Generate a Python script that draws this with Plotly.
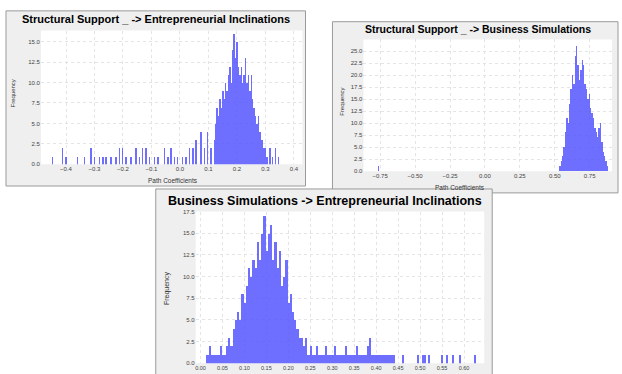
import plotly.graph_objects as go

W, H = 622, 374

# ---------------- data ----------------
p1_title = "Structural Support _ -> Entrepreneurial Inclinations"
p1_coef = [-0.447, -0.412, -0.400, -0.359, -0.336, -0.312, -0.301, -0.283, -0.271, -0.260,
           -0.242, -0.225, -0.213, -0.201, -0.189, -0.172, -0.154, -0.143, -0.131, -0.119,
           -0.108, -0.090, -0.078, -0.055, -0.043, -0.032, -0.020, -0.008, 0.009, 0.021,
           0.033, 0.045, 0.056, 0.074, 0.085, 0.097, 0.109, 0.120,
           0.125, 0.130, 0.135, 0.140, 0.145, 0.150, 0.155, 0.160, 0.165, 0.170,
           0.175, 0.180, 0.185, 0.190, 0.195, 0.200, 0.205, 0.210, 0.215, 0.220,
           0.225, 0.230, 0.235, 0.240, 0.245, 0.250, 0.255, 0.260, 0.265, 0.270,
           0.275, 0.280, 0.285, 0.290, 0.295, 0.300, 0.305, 0.315, 0.325, 0.335, 0.345]
p1_freq = [1, 2, 1, 1, 1, 2, 1, 1, 1, 1,
           1, 1, 2, 2, 1, 1, 2, 1, 2, 2,
           1, 1, 1, 2, 1, 2, 1, 1, 1, 1,
           2, 2, 3, 4, 2, 4, 2, 3,
           5, 7, 6, 8, 7, 9, 8, 10, 9, 11,
           12, 10, 14, 16, 13, 15, 12, 11, 12, 10,
           11, 13, 10, 11, 9, 11, 8, 7, 6, 5,
           6, 4, 3, 3, 2, 2, 1, 2, 1, 2, 1]
p1_xticks = [-0.4, -0.3, -0.2, -0.1, 0.0, 0.1, 0.2, 0.3, 0.4]

p2_title = "Structural Support _ -> Business Simulations"
p2_coef = [-0.76, 0.54, 0.55, 0.56, 0.57, 0.58, 0.59, 0.60, 0.61, 0.62, 0.63, 0.64, 0.65,
           0.66, 0.67, 0.68, 0.69, 0.70, 0.71, 0.72, 0.73, 0.74, 0.75, 0.76, 0.77,
           0.78, 0.79, 0.80, 0.81, 0.82, 0.83, 0.84, 0.85, 0.86, 0.87, 0.88]
p2_freq = [1, 1, 2, 3, 5, 8, 11, 10, 14, 17, 20, 18, 24,
           26, 22, 19, 21, 23, 22, 18, 17, 15, 16, 13, 12,
           11, 9, 8, 7, 9, 10, 6, 4, 3, 2, 1]
p2_xticks = [-0.75, -0.50, -0.25, 0.00, 0.25, 0.50, 0.75]

p3_title = "Business Simulations -> Entrepreneurial Inclinations"
p3_coef = [0.015, 0.020, 0.025, 0.030, 0.035, 0.040, 0.045, 0.050, 0.055, 0.060, 0.065, 0.070,
           0.075, 0.080, 0.085, 0.090, 0.095, 0.100, 0.105, 0.110, 0.115, 0.120,
           0.125, 0.130, 0.135, 0.140, 0.145, 0.150, 0.155, 0.160, 0.165, 0.170,
           0.175, 0.180, 0.185, 0.190, 0.195, 0.200, 0.205, 0.210, 0.215, 0.220,
           0.225, 0.230, 0.235, 0.240, 0.245, 0.250, 0.255, 0.260, 0.265, 0.270,
           0.275, 0.280, 0.285, 0.290, 0.295, 0.300, 0.305, 0.310, 0.315, 0.320,
           0.325, 0.330, 0.335, 0.340, 0.345, 0.350, 0.355, 0.360, 0.365, 0.370,
           0.375, 0.380, 0.385, 0.390, 0.395, 0.400, 0.405, 0.410, 0.415, 0.420,
           0.425, 0.430, 0.435, 0.440, 0.460, 0.495, 0.505, 0.510, 0.520, 0.550,
           0.560, 0.575, 0.590, 0.625]
p3_freq = [1, 2, 1, 1, 1, 1, 2, 1, 1, 2, 3, 2,
           4, 5, 6, 5, 8, 7, 9, 11, 10, 12,
           11, 14, 12, 15, 17, 13, 15, 16, 12, 14,
           11, 13, 9, 10, 12, 7, 8, 6, 5, 4,
           3, 3, 2, 3, 1, 2, 1, 1, 2, 1,
           1, 1, 2, 1, 1, 1, 2, 1, 1, 1,
           1, 2, 1, 1, 1, 1, 2, 1, 1, 1,
           1, 2, 3, 1, 1, 1, 1, 1, 1, 1,
           1, 1, 1, 1, 1, 1, 1, 1, 1, 1,
           1, 1, 1, 1]
p3_xticks = [0.00, 0.05, 0.10, 0.15, 0.20, 0.25, 0.30, 0.35, 0.40, 0.45, 0.50, 0.55, 0.60, 0.65]

y_dtick = 2.5

# ---------------- layout helpers ----------------
def px(x):
    return x / W

def py(y):
    return 1 - y / H

BAR = "rgba(85,85,255,0.85)"
FONT = "Liberation Sans, Arial, sans-serif"

fig = go.Figure()
fig.add_trace(go.Bar(x=p1_coef, y=p1_freq, width=0.005, marker=dict(color=BAR, line=dict(width=0)),
                     xaxis="x", yaxis="y"))
fig.add_trace(go.Bar(x=p2_coef, y=p2_freq, width=0.01, marker=dict(color=BAR, line=dict(width=0)),
                     xaxis="x2", yaxis="y2"))
fig.add_trace(go.Bar(x=p3_coef, y=p3_freq, width=0.005, marker=dict(color=BAR, line=dict(width=0)),
                     xaxis="x3", yaxis="y3"))

panels = [
    dict(frame=(5, 8, 305, 186), plot=(40, 28, 302, 164)),
    dict(frame=(332, 19, 618, 193), plot=(363, 37, 612, 171)),
    dict(frame=(155, 189, 492, 378), plot=(195, 212, 484, 366)),
]
shapes = []
for p in panels:
    fx0, fy0, fx1, fy1 = p["frame"]
    shapes.append(dict(type="rect", xref="paper", yref="paper", layer="below",
                       x0=px(fx0), x1=px(fx1), y0=py(fy1), y1=py(fy0),
                       fillcolor="#efefef", line=dict(color="#9a9a9a", width=1)))
    qx0, qy0, qx1, qy1 = p["plot"]
    shapes.append(dict(type="rect", xref="paper", yref="paper", layer="below",
                       x0=px(qx0), x1=px(qx1), y0=py(qy1), y1=py(qy0),
                       fillcolor="white", line=dict(width=0)))

tickfont = dict(family=FONT, size=6, color="#444")
common_x = dict(showline=False, zeroline=False, ticks="", tickfont=tickfont,
                gridcolor="#e4e4e4", griddash="dot", showgrid=True, fixedrange=True)
common_y = dict(showline=False, zeroline=False, ticks="", tickfont=tickfont,
                gridcolor="#e4e4e4", griddash="dot", showgrid=True, dtick=y_dtick,
                tick0=0, tickformat=".1f", fixedrange=True)

def dom(p):
    qx0, qy0, qx1, qy1 = p["plot"]
    return [px(qx0), px(qx1)], [py(qy1), py(qy0)]

d1x, d1y = dom(panels[0])
d2x, d2y = dom(panels[1])
d3x, d3y = dom(panels[2])

annotations = []
def ann(text, x, y, size, bold=False, angle=0, color="#000"):
    annotations.append(dict(text=f"<b>{text}</b>" if bold else text, x=px(x), y=py(y),
                            xref="paper", yref="paper", showarrow=False, textangle=angle,
                            font=dict(family=FONT, size=size, color=color),
                            xanchor="center", yanchor="middle"))

ann(p1_title, 155, 16, 11, bold=True)
ann(p2_title, 478, 26, 10.5, bold=True)
ann(p3_title, 325, 201, 12.5, bold=True)
ann("Frequency", 12, 92, 6, angle=-90, color="#333")
ann("Frequency", 342, 100, 6, angle=-90, color="#333")
ann("Frequency", 167, 290, 7, angle=-90, color="#333")
ann("Path Coefficients", 172, 180, 6.5, color="#333")
ann("Path Coefficients", 460, 187, 6.5, color="#333")

fig.update_layout(
    width=W, height=H, margin=dict(l=0, r=0, t=0, b=0),
    paper_bgcolor="white", plot_bgcolor="rgba(0,0,0,0)",
    showlegend=False, bargap=0,
    shapes=shapes, annotations=annotations,
    xaxis=dict(domain=d1x, anchor="y", range=[-0.488, 0.43], tickvals=p1_xticks,
               tickformat=".1f", **common_x),
    yaxis=dict(domain=d1y, anchor="x", range=[0, 16.35], **common_y),
    xaxis2=dict(domain=d2x, anchor="y2", range=[-0.87, 0.91], tickvals=p2_xticks,
                tickformat=".2f", **common_x),
    yaxis2=dict(domain=d2y, anchor="x2", range=[0, 27.45], **common_y),
    xaxis3=dict(domain=d3x, anchor="y3", range=[-0.011, 0.646], tickvals=p3_xticks,
                tickformat=".2f", tickfont=dict(family=FONT, size=5.5, color="#444"),
                **{k: v for k, v in common_x.items() if k != "tickfont"}),
    yaxis3=dict(domain=d3y, anchor="x3", range=[0, 17.5], **common_y),
)

fig.write_html("out.html", config=dict(displayModeBar=False),
               post_script="document.body.style.margin='0';document.body.style.overflow='hidden';")
